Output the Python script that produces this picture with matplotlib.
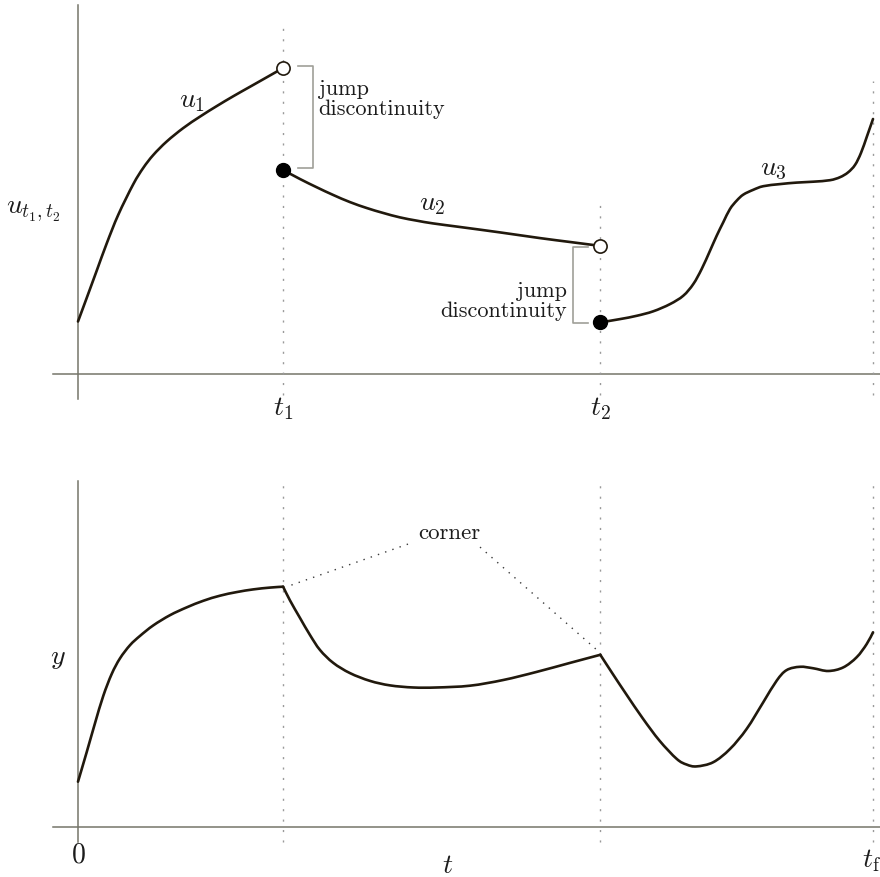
import matplotlib
matplotlib.use("Agg")
import matplotlib.pyplot as plt
from matplotlib.path import Path
from matplotlib.patches import PathPatch

plt.rcParams["mathtext.fontset"] = "cm"

# ---- time marks -------------------------------------------------------
t1 = 2.58
t2 = 6.57
tf = 10.0

# ---- control u (piecewise, jumps at t1 and t2) --------------------------
u1_t = [0.0, 0.109, 0.235, 0.361, 0.507, 0.696, 0.821, 0.947, 1.116, 1.325,
        1.535, 1.745, 1.954, 2.164, 2.374, 2.58]
u1_v = [1.75, 2.53, 3.44, 4.35, 5.31, 6.33, 6.87, 7.3, 7.75, 8.2,
        8.58, 8.93, 9.26, 9.575, 9.89, 10.2]

u2_t = [2.58, 2.792, 3.006, 3.208, 3.421, 3.635, 3.836, 4.05, 4.264, 4.465,
        4.805, 5.308, 5.811, 6.189, 6.57]
u2_v = [6.8, 6.5, 6.22, 5.97, 5.73, 5.53, 5.37, 5.22, 5.11, 5.02,
        4.9, 4.72, 4.53, 4.4, 4.27]

u3_t = [6.57, 6.818, 7.028, 7.236, 7.447, 7.614, 7.74, 7.845, 7.95, 8.034,
        8.117, 8.201, 8.286, 8.369, 8.494, 8.62, 8.83, 9.04, 9.249, 9.459,
        9.585, 9.686, 9.774, 9.849, 9.925, 10.0]
u3_v = [1.72, 1.83, 1.94, 2.09, 2.33, 2.61, 3.0, 3.5, 4.11, 4.61,
        5.06, 5.5, 5.78, 5.98, 6.14, 6.26, 6.33, 6.38, 6.41, 6.46,
        6.56, 6.72, 6.97, 7.37, 7.93, 8.5]

# ---- state y (continuous, corners at t1 and t2) -------------------------
y_t = [0.0, 0.109, 0.214, 0.318, 0.424, 0.528, 0.654, 0.78, 0.947, 1.157,
       1.367, 1.576, 1.786, 1.996, 2.205, 2.415, 2.58,
       2.667, 2.792, 2.918, 3.044, 3.211, 3.421, 3.673, 3.925, 4.218,
       4.512, 4.931, 5.35, 5.77, 6.189, 6.57,
       6.727, 6.895, 7.104, 7.314, 7.531, 7.657, 7.782, 7.991, 8.201,
       8.411, 8.62, 8.789, 8.914, 9.082, 9.249, 9.438, 9.626, 9.795,
       9.921, 10.0]
y_v = [1.51, 2.49, 3.46, 4.37, 5.1, 5.62, 6.06, 6.37, 6.72, 7.06,
       7.32, 7.54, 7.71, 7.83, 7.92, 7.98, 8.01,
       7.55, 6.97, 6.4, 5.9, 5.47, 5.13, 4.87, 4.72, 4.65,
       4.65, 4.71, 4.9, 5.17, 5.47, 5.74,
       5.1, 4.43, 3.62, 2.88, 2.27, 2.08, 2.02, 2.16, 2.6,
       3.27, 4.16, 4.88, 5.23, 5.34, 5.29, 5.2, 5.32, 5.66,
       6.1, 6.49]

# ---- labels --------------------------------------------------------------
time_labels = [r"$t_1$", r"$t_2$"]
bottom_labels = [r"$0$", r"$t$", r"$t_{\mathrm{f}}$"]
u_label = r"$u_{t_1,t_2}$"
y_label = r"$y$"
piece_labels = [r"$u_1$", r"$u_2$", r"$u_3$"]
jump_text = "jump\ndiscontinuity"
corner_text = "corner"

# ---- styling -------------------------------------------------------------
CURVE = "#21190d"
AXIS = "#75756a"
GUIDE = "#9a9a9a"
BRACKET = "#a0a098"
TEXT = "#1c1c1c"
MATH_FS = 20
TEXT_FS = 16


def smooth_path(xs, ys):
    """Cubic Bezier path passing through every (x, y) point (Catmull-Rom)."""
    pts = list(zip(xs, ys))
    n = len(pts)
    verts = [pts[0]]
    codes = [Path.MOVETO]
    for i in range(n - 1):
        p0 = pts[max(i - 1, 0)]
        p1 = pts[i]
        p2 = pts[i + 1]
        p3 = pts[min(i + 2, n - 1)]
        c1 = (p1[0] + (p2[0] - p0[0]) / 6, p1[1] + (p2[1] - p0[1]) / 6)
        c2 = (p2[0] - (p3[0] - p1[0]) / 6, p2[1] - (p3[1] - p1[1]) / 6)
        verts += [c1, c2, p2]
        codes += [Path.CURVE4] * 3
    return Path(verts, codes)


def draw_curve(ax, xs, ys):
    ax.add_patch(PathPatch(smooth_path(xs, ys), fill=False, edgecolor=CURVE,
                           lw=1.9, capstyle="round", joinstyle="round",
                           zorder=3))


fig = plt.figure(figsize=(8.8, 8.78), dpi=100)
ax_u = fig.add_axes([0, 1 - 440 / 878, 1, 440 / 878])
ax_y = fig.add_axes([0, 0, 1, 438 / 878])

x_lo, x_hi = -0.981, 10.088
ax_u.set_xlim(x_lo, x_hi)
ax_u.set_ylim(-2.167, 12.5)
ax_y.set_xlim(x_lo, x_hi)
ax_y.set_ylim(-1.667, 12.933)
for ax in (ax_u, ax_y):
    ax.axis("off")

dot_guide = dict(color=GUIDE, lw=1.0, linestyle=(0, (1.5, 6)))

# ---------------- top panel: control -------------------------------------
ax_u.plot([0, 0], [-0.83, 12.3], color=AXIS, lw=1.1)
ax_u.plot([-0.314, x_hi], [0, 0], color=AXIS, lw=1.1)

ax_u.plot([t1, t1], [-0.7, 11.55], **dot_guide)
ax_u.plot([t2, t2], [-0.7, 5.75], **dot_guide)
ax_u.plot([tf, tf], [-0.7, 9.75], **dot_guide)

draw_curve(ax_u, u1_t, u1_v)
draw_curve(ax_u, u2_t, u2_v)
draw_curve(ax_u, u3_t, u3_v)

# open circles: left limits; filled circles: values taken at the switch
ax_u.plot([t1, t2], [u1_v[-1], u2_v[-1]], "o", ms=9.5, mfc="white",
          mec=CURVE, mew=1.2, zorder=5)
ax_u.plot([t1, t2], [u2_v[0], u3_v[0]], "o", ms=10, mfc="black",
          mec="black", zorder=5)

# jump brackets
b1_in, b1_out = t1 + 0.187, t1 + 0.376
ax_u.plot([b1_in, b1_out, b1_out, b1_in],
          [u1_v[-1] + 0.07, u1_v[-1] + 0.07, u2_v[0] + 0.07, u2_v[0] + 0.07],
          color=BRACKET, lw=1.2)
b2_in, b2_out = t2 - 0.155, t2 - 0.344
ax_u.plot([b2_in, b2_out, b2_out, b2_in],
          [u2_v[-1] - 0.04, u2_v[-1] - 0.04, u3_v[0] - 0.02, u3_v[0] - 0.02],
          color=BRACKET, lw=1.2)

ax_u.text(b1_out + 0.07, 9.2, jump_text, ha="left", va="center",
          fontfamily="cmr10", fontsize=TEXT_FS, color=TEXT, linespacing=1.05)
ax_u.text(b2_out - 0.08, 2.47, jump_text, ha="right", va="center",
          fontfamily="cmr10", fontsize=TEXT_FS, color=TEXT, linespacing=1.05,
          multialignment="right")

ax_u.text(1.434, 9.17, piece_labels[0], ha="center", va="center",
          fontsize=MATH_FS, color=TEXT)
ax_u.text(4.453, 5.73, piece_labels[1], ha="center", va="center",
          fontsize=MATH_FS, color=TEXT)
ax_u.text(8.742, 6.9, piece_labels[2], ha="center", va="center",
          fontsize=MATH_FS, color=TEXT)

ax_u.text(-0.56, 5.5, u_label, ha="center", va="center",
          fontsize=MATH_FS, color=TEXT)
ax_u.text(t1, -1.1, time_labels[0], ha="center", va="center",
          fontsize=MATH_FS, color=TEXT)
ax_u.text(t2, -1.1, time_labels[1], ha="center", va="center",
          fontsize=MATH_FS, color=TEXT)

# ---------------- bottom panel: state ------------------------------------
ax_y.plot([0, 0], [-0.5, 11.53], color=AXIS, lw=1.1)
ax_y.plot([-0.314, x_hi], [0, 0], color=AXIS, lw=1.1)

for tv in (t1, t2, tf):
    ax_y.plot([tv, tv], [-0.5, 11.43], **dot_guide)

# smooth between corners, sharp at t1 and t2
i1 = y_t.index(t1)
i2 = y_t.index(t2)
draw_curve(ax_y, y_t[:i1 + 1], y_v[:i1 + 1])
draw_curve(ax_y, y_t[i1:i2 + 1], y_v[i1:i2 + 1])
draw_curve(ax_y, y_t[i2:], y_v[i2:])

# corner leaders
leader_kw = dict(color="#3a3a3a", lw=1.0, linestyle=(0, (1, 4.5)))
ax_y.plot([4.151, t1 + 0.1], [9.43, y_v[i1] + 0.05], **leader_kw)
ax_y.plot([5.057, t2 - 0.03], [9.33, y_v[i2] + 0.13], **leader_kw)
ax_y.text(4.667, 9.83, corner_text, ha="center", va="center",
          fontfamily="cmr10", fontsize=TEXT_FS + 0.5, color=TEXT)

ax_y.text(-0.252, 5.7, y_label, ha="center", va="center",
          fontsize=MATH_FS, color=TEXT)
ax_y.text(0.0, -0.9, bottom_labels[0], ha="center", va="center",
          fontsize=MATH_FS, color=TEXT)
ax_y.text(4.654, -1.23, bottom_labels[1], ha="center", va="center",
          fontsize=MATH_FS, color=TEXT)
ax_y.text(9.98, -1.07, bottom_labels[2], ha="center", va="center",
          fontsize=MATH_FS, color=TEXT)

fig.savefig("out.png", dpi=100)
